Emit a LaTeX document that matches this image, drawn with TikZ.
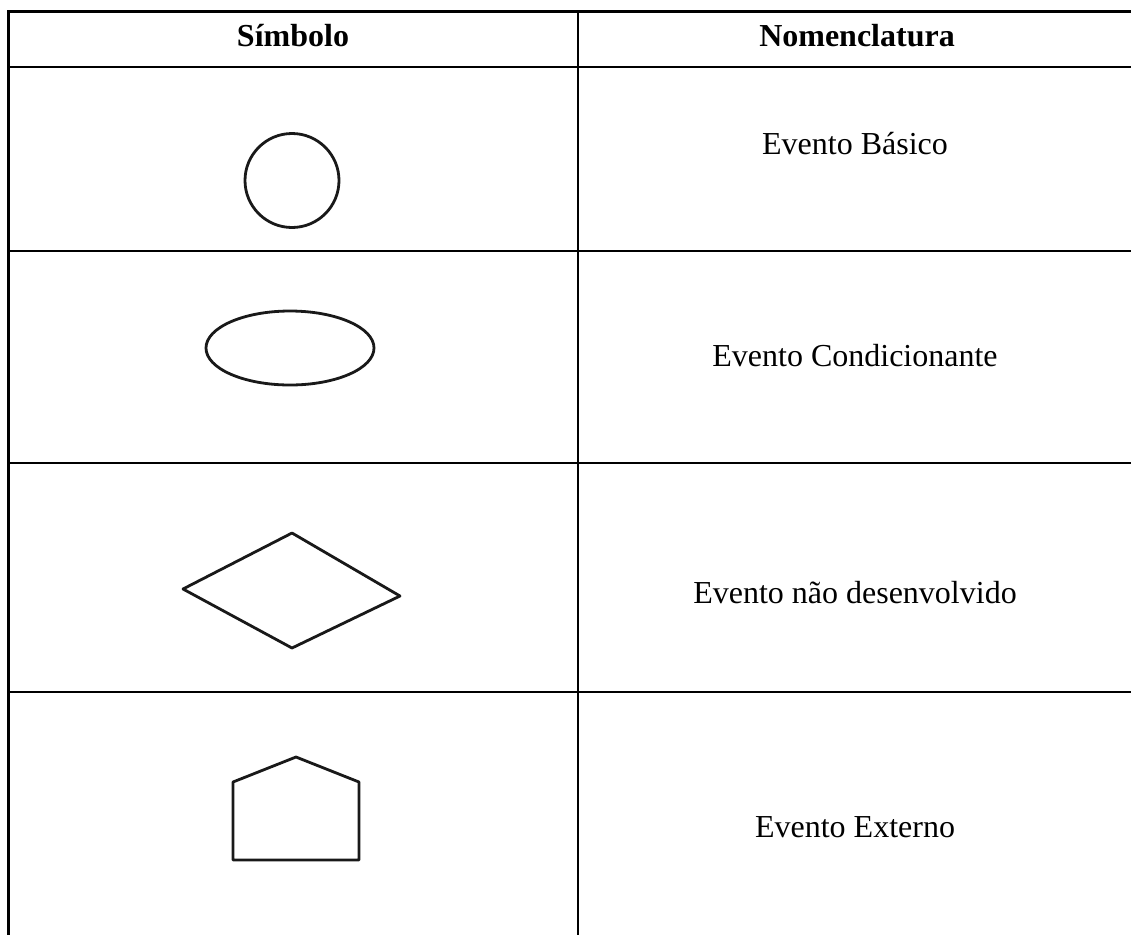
\documentclass[tikz,border=0pt]{standalone}
\usepackage{fontspec}
\setmainfont{Liberation Serif}
\begin{document}
\begin{tikzpicture}[x=1pt,y=-1pt,
  grid/.style={line width=2.6pt},
  sym/.style={line width=2.8pt, line join=round, black!90},
  txt/.style={anchor=base, inner sep=0pt, font=\fontsize{32}{38}\selectfont},
  head/.style={txt, font=\fontsize{32}{38}\selectfont\bfseries}]
\useasboundingbox (0,0) rectangle (1131,935);
% table grid
\draw[grid] (8.7,11.3) -- (1131,11.3);
\draw[grid] (8.7,67) -- (1131,67);
\draw[grid] (8.7,251) -- (1131,251);
\draw[grid] (8.7,463) -- (1131,463);
\draw[grid] (8.7,692) -- (1131,692);
\draw[grid] (8.7,10) -- (8.7,935);
\draw[grid] (578,10) -- (578,935);
% headers
\node[head] (h1) at (293,46) {Símbolo};
\node[head] (h2) at (857,46) {Nomenclatura};
% symbols
\draw[sym] (292,180.5) circle (47);
\draw[sym] (290,348) ellipse (84 and 37);
\draw[sym] (183,589) -- (292,533) -- (400,596) -- (292,648) -- cycle;
\draw[sym] (233,860) -- (233,782) -- (296,757) -- (359,782) -- (359,860) -- cycle;
% labels
\node[txt] (t1) at (855,154) {Evento Básico};
\node[txt] (t2) at (855,366) {Evento Condicionante};
\node[txt] (t3) at (855,603) {Evento não desenvolvido};
\node[txt] (t4) at (855,837) {Evento Externo};
\end{tikzpicture}
\end{document}
